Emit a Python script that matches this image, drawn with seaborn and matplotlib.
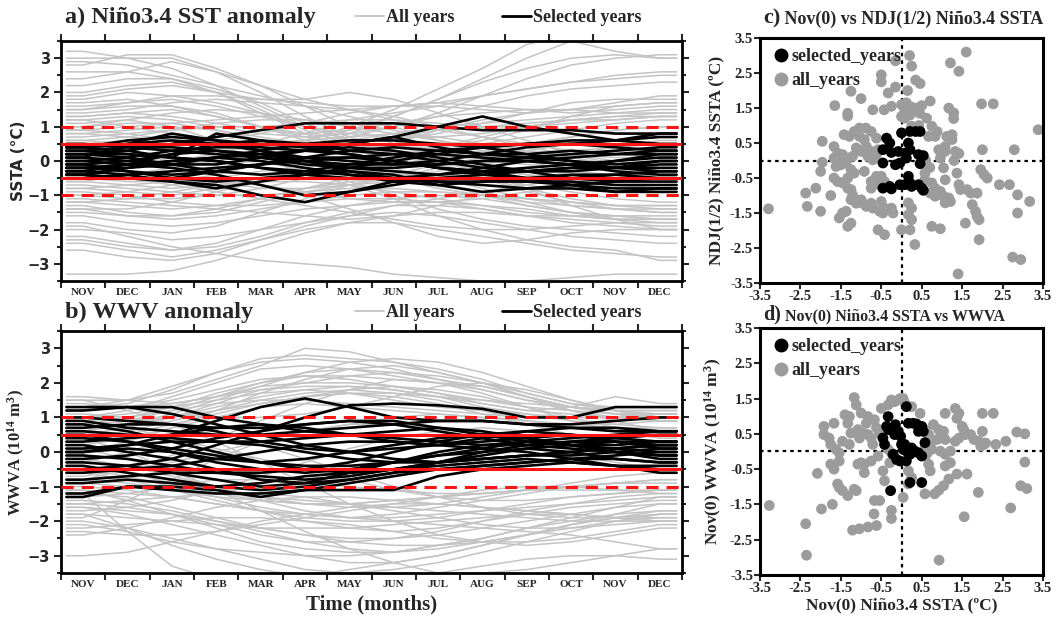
import numpy as np
import pandas as pd
import matplotlib
matplotlib.use("Agg")
import matplotlib.pyplot as plt
import seaborn as sns
from matplotlib.lines import Line2D
from matplotlib.ticker import MultipleLocator

# ---------------- data ----------------
months = ["NOV", "DEC", "JAN", "FEB", "MAR", "APR", "MAY", "JUN",
          "JUL", "AUG", "SEP", "OCT", "NOV", "DEC"]

# a) Nino3.4 SSTA, all years (grey)
sst_all = [
    [3.2, 3.0, 2.7, 2.2, 1.6, 1.0, 0.6, 0.3, -0.1, -0.5, -0.9, -1.2, -1.4, -1.5],
    [3.0, 3.0, 3.0, 2.6, 2.0, 1.3, 0.7, 0.3, 0.0, -0.2, -0.4, -0.6, -0.7, -0.8],
    [2.8, 3.1, 3.1, 2.7, 2.2, 1.6, 1.0, 0.5, 0.2, -0.3, -0.8, -1.3, -1.7, -2.0],
    [2.6, 2.6, 2.4, 2.0, 1.4, 0.8, 0.3, -0.2, -0.6, -1.0, -1.3, -1.5, -1.6, -1.7],
    [2.2, 2.4, 2.4, 2.1, 1.7, 1.1, 0.6, 0.2, -0.1, -0.4, -0.5, -0.6, -0.6, -0.5],
    [2.0, 2.2, 2.3, 2.0, 1.5, 0.9, 0.5, 0.3, 0.2, 0.1, 0.1, 0.2, 0.2, 0.3],
    [1.8, 2.0, 1.9, 1.7, 1.4, 1.0, 0.6, 0.3, 0.0, -0.2, -0.4, -0.5, -0.7, -0.8],
    [1.6, 1.7, 1.8, 1.6, 1.3, 1.0, 0.8, 0.7, 0.7, 0.8, 1.0, 1.2, 1.3, 1.4],
    [1.5, 1.6, 1.6, 1.4, 1.0, 0.6, 0.3, 0.1, -0.2, -0.5, -0.8, -1.1, -1.3, -1.4],
    [1.3, 1.4, 1.5, 1.3, 1.0, 0.8, 0.6, 0.6, 0.8, 1.1, 1.4, 1.7, 1.8, 1.8],
    [1.2, 1.3, 1.2, 1.0, 0.8, 0.7, 0.8, 1.0, 1.4, 1.9, 2.4, 2.8, 3.0, 3.1],
    [1.0, 1.1, 1.1, 0.9, 0.6, 0.4, 0.2, 0.0, -0.1, -0.2, -0.3, -0.3, -0.4, -0.4],
    [0.9, 1.0, 1.1, 1.2, 1.3, 1.4, 1.5, 1.6, 1.7, 1.6, 1.5, 1.4, 1.5, 1.6],
    [0.8, 0.7, 0.6, 0.5, 0.5, 0.6, 0.9, 1.3, 1.8, 2.3, 2.7, 3.0, 3.1, 3.0],
    [0.6, 0.5, 0.5, 0.6, 0.8, 1.1, 1.4, 1.6, 1.6, 1.5, 1.4, 1.5, 1.7, 1.9],
    [0.0, 0.0, -0.1, 0.0, 0.2, 0.6, 1.0, 1.5, 2.1, 2.7, 3.4, 3.7, 3.8, 3.8],
    [0.3, 0.2, 0.0, -0.1, 0.0, 0.3, 0.8, 1.3, 1.8, 2.4, 3.0, 3.5, 3.2, 3.0],
    [-0.2, -0.1, 0.0, 0.2, 0.5, 0.8, 1.2, 1.4, 1.6, 1.9, 2.1, 2.3, 2.4, 2.5],
    [-0.5, -0.6, -0.6, -0.4, -0.1, 0.3, 0.7, 1.0, 1.3, 1.6, 1.9, 2.1, 2.2, 2.3],
    [-0.8, -0.9, -1.0, -0.8, -0.5, -0.2, 0.2, 0.5, 0.9, 1.2, 1.4, 1.5, 1.6, 1.7],
    [-1.0, -1.1, -1.1, -1.0, -0.8, -0.5, -0.3, -0.1, 0.1, 0.3, 0.5, 0.7, 0.9, 1.0],
    [-1.2, -1.3, -1.4, -1.3, -1.1, -0.8, -0.5, -0.4, -0.4, -0.5, -0.7, -0.9, -1.1, -1.2],
    [-1.3, -1.5, -1.6, -1.5, -1.2, -0.9, -0.7, -0.6, -0.7, -0.9, -1.2, -1.5, -1.7, -1.8],
    [-1.5, -1.6, -1.6, -1.4, -1.1, -0.8, -0.6, -0.5, -0.3, -0.1, 0.1, 0.3, 0.4, 0.5],
    [-1.6, -1.8, -1.9, -1.8, -1.6, -1.4, -1.3, -1.2, -1.2, -1.3, -1.4, -1.6, -1.7, -1.7],
    [-1.8, -2.0, -2.1, -1.9, -1.5, -1.1, -0.7, -0.4, -0.1, 0.2, 0.5, 0.7, 0.9, 1.0],
    [-2.0, -2.1, -2.3, -2.2, -2.0, -1.8, -1.6, -1.5, -1.6, -1.8, -2.0, -2.2, -2.3, -2.4],
    [-2.2, -2.4, -2.6, -2.5, -2.2, -1.8, -1.5, -1.3, -1.3, -1.4, -1.6, -1.8, -1.9, -2.0],
    [-2.4, -2.6, -2.8, -2.6, -2.3, -2.0, -1.8, -1.8, -2.0, -2.2, -2.4, -2.6, -2.7, -2.8],
    [-2.6, -2.8, -2.9, -2.7, -2.3, -1.9, -1.6, -1.3, -1.1, -0.9, -0.7, -0.5, -0.4, -0.3],
    [-3.3, -3.3, -3.2, -2.9, -2.5, -2.1, -1.8, -1.6, -1.5, -1.5, -1.6, -1.6, -1.7, -1.7],
    [-1.9, -2.2, -2.5, -2.7, -2.9, -3.0, -3.1, -3.3, -3.4, -3.5, -3.5, -3.4, -3.3, -3.3],
    [0.5, 0.6, 0.4, 0.2, 0.0, -0.3, -0.7, -1.1, -1.6, -2.0, -2.3, -2.5, -2.6, -2.9],
    [1.1, 1.2, 1.0, 0.6, 0.2, -0.2, -0.6, -1.0, -1.4, -1.7, -1.9, -2.0, -2.1, -2.2],
    [0.2, 0.0, -0.2, -0.4, -0.7, -1.0, -1.4, -1.8, -2.2, -2.4, -2.3, -2.1, -2.0, -2.0],
    [-0.4, -0.5, -0.7, -0.9, -1.1, -1.3, -1.5, -1.7, -1.9, -2.0, -2.0, -1.9, -1.8, -1.8],
    [1.4, 1.5, 1.7, 1.8, 1.7, 1.6, 1.5, 1.3, 1.0, 0.7, 0.4, 0.2, 0.0, -0.2],
    [2.4, 2.6, 2.9, 2.6, 2.2, 1.8, 1.5, 1.2, 0.9, 0.7, 0.5, 0.3, 0.2, 0.1],
    [1.9, 2.1, 2.2, 2.0, 1.8, 1.8, 2.0, 1.8, 1.4, 1.0, 0.6, 0.2, -0.1, -0.3],
    [-0.6, -0.7, -0.8, -0.7, -0.5, -0.3, -0.1, 0.1, 0.4, 0.7, 1.0, 1.2, 1.3, 1.3],
    [0.7, 0.8, 0.9, 1.0, 1.0, 1.1, 1.2, 1.2, 1.1, 1.0, 1.0, 1.1, 1.2, 1.3],
    [-0.9, -1.0, -1.2, -1.3, -1.3, -1.2, -1.1, -1.1, -1.2, -1.4, -1.6, -1.7, -1.8, -1.9],
    [-1.1, -1.2, -1.3, -1.4, -1.5, -1.6, -1.7, -1.6, -1.3, -1.0, -0.6, -0.3, 0.0, 0.1],
    [1.7, 1.8, 1.6, 1.3, 1.0, 0.7, 0.5, 0.4, 0.4, 0.6, 0.9, 1.3, 1.6, 1.7],
    [-1.4, -1.4, -1.2, -0.9, -0.6, -0.4, -0.3, -0.3, -0.5, -0.8, -1.1, -1.3, -1.4, -1.5],
    [2.9, 2.8, 2.5, 2.2, 1.9, 1.6, 1.3, 1.0, 0.6, 0.3, 0.2, 0.2, 0.4, 0.6],
    [0.4, 0.4, 0.3, 0.3, 0.4, 0.5, 0.5, 0.4, 0.2, 0.0, -0.1, -0.2, -0.3, -0.3],
    [-0.3, -0.3, -0.4, -0.6, -0.8, -0.8, -0.7, -0.5, -0.2, 0.1, 0.3, 0.5, 0.6, 0.7],
    [1.5, 1.7, 1.9, 1.9, 1.8, 1.7, 1.6, 1.6, 1.7, 1.9, 2.1, 2.3, 2.5, 2.6],
    [-2.3, -2.5, -2.6, -2.4, -2.0, -1.6, -1.3, -1.1, -1.0, -1.1, -1.3, -1.5, -1.6, -1.7],
    [0.9, 0.8, 0.6, 0.5, 0.4, 0.4, 0.5, 0.7, 0.9, 1.0, 1.1, 1.2, 1.2, 1.3],
    [-0.7, -0.8, -0.9, -1.0, -1.0, -0.9, -0.8, -0.8, -0.9, -1.0, -1.1, -1.2, -1.3, -1.3],
    [1.2, 1.0, 0.8, 0.6, 0.5, 0.6, 0.7, 0.8, 0.7, 0.5, 0.3, 0.1, -0.1, -0.2],
    [-1.0, -0.9, -0.7, -0.5, -0.3, -0.2, -0.3, -0.5, -0.8, -1.0, -1.2, -1.3, -1.4, -1.4],
    [0.6, 0.7, 0.9, 1.1, 1.2, 1.2, 1.1, 0.9, 0.6, 0.3, 0.0, -0.3, -0.5, -0.6],
    [-0.6, -0.4, -0.2, 0.0, 0.2, 0.4, 0.6, 0.8, 1.0, 1.1, 1.2, 1.3, 1.4, 1.5],
    [1.3, 1.4, 1.3, 1.1, 0.9, 0.8, 0.9, 1.1, 1.3, 1.4, 1.5, 1.5, 1.4, 1.4],
    [-1.2, -1.1, -0.9, -0.7, -0.6, -0.6, -0.7, -0.9, -1.1, -1.3, -1.5, -1.6, -1.6, -1.6],
    [0.8, 0.9, 1.0, 0.9, 0.7, 0.5, 0.3, 0.2, 0.3, 0.5, 0.7, 0.9, 1.1, 1.2],
    [-0.8, -0.7, -0.6, -0.6, -0.7, -0.9, -1.1, -1.2, -1.2, -1.1, -0.9, -0.7, -0.5, -0.4],
    [1.0, 1.2, 1.4, 1.5, 1.4, 1.2, 1.0, 0.8, 0.6, 0.4, 0.3, 0.2, 0.1, 0.1],
    [-1.4, -1.6, -1.7, -1.6, -1.4, -1.2, -1.0, -0.9, -0.9, -1.0, -1.1, -1.2, -1.3, -1.3],
]

# a) Nino3.4 SSTA, selected years (black)
sst_sel = [
    [0.2, 0.3, 0.5, 0.7, 0.9, 1.1, 1.1, 1.1, 1.0, 0.9, 0.9, 0.9, 0.8, 0.8],
    [-0.2, -0.1, 0.0, 0.1, 0.2, 0.3, 0.5, 0.7, 1.0, 1.3, 1.0, 0.8, 0.6, 0.7],
    [-0.4, -0.5, -0.6, -0.7, -1.0, -1.2, -0.9, -0.6, -0.5, -0.5, -0.6, -0.7, -0.9, -0.9],
    [0.4, 0.6, 0.7, 0.6, 0.5, 0.4, 0.2, 0.0, -0.2, -0.3, -0.5, -0.7, -0.8, -0.8],
    [0.1, 0.5, 0.8, 0.6, 0.3, 0.1, 0.0, -0.1, -0.1, 0.0, 0.1, 0.2, 0.3, 0.4],
    [0.3, 0.2, 0.1, 0.8, 0.6, 0.4, 0.5, 0.7, 0.4, 0.2, 0.1, 0.0, -0.1, 0.0],
    [-0.3, -0.4, -0.6, -0.8, -0.6, -0.4, -0.3, -0.4, -0.7, -0.9, -0.8, -0.7, -0.6, -0.5],
    [0.0, -0.1, -0.2, -0.4, -0.7, -1.0, -0.9, -0.7, -0.5, -0.4, -0.3, -0.2, -0.2, -0.1],
    [0.5, 0.4, 0.3, 0.2, 0.1, 0.0, -0.1, -0.1, 0.0, 0.2, 0.4, 0.5, 0.6, 0.8],
    [-0.1, 0.0, 0.2, 0.3, 0.2, 0.0, -0.2, -0.3, -0.4, -0.3, -0.2, -0.1, 0.0, 0.1],
    [0.2, 0.1, -0.1, -0.3, -0.4, -0.3, -0.1, 0.1, 0.3, 0.4, 0.5, 0.6, 0.6, 0.5],
    [-0.5, -0.4, -0.3, -0.2, -0.1, 0.0, 0.1, 0.2, 0.2, 0.1, 0.0, -0.1, -0.3, -0.4],
    [0.4, 0.3, 0.1, 0.0, -0.2, -0.3, -0.4, -0.5, -0.6, -0.6, -0.6, -0.6, -0.7, -0.7],
    [-0.2, -0.3, -0.4, -0.3, -0.1, 0.1, 0.3, 0.4, 0.3, 0.2, 0.2, 0.3, 0.2, 0.2],
    [0.0, 0.1, 0.3, 0.4, 0.4, 0.3, 0.2, 0.0, -0.2, -0.4, -0.5, -0.5, -0.4, -0.3],
    [-0.4, -0.2, 0.0, 0.1, 0.0, -0.2, -0.4, -0.6, -0.7, -0.6, -0.5, -0.4, -0.4, -0.5],
    [0.3, 0.4, 0.4, 0.3, 0.1, -0.1, -0.2, -0.2, -0.1, 0.0, 0.0, -0.1, -0.2, -0.2],
    [-0.1, -0.3, -0.5, -0.6, -0.5, -0.4, -0.2, 0.0, 0.2, 0.4, 0.5, 0.5, 0.4, 0.3],
    [0.1, 0.0, -0.1, -0.1, 0.1, 0.3, 0.4, 0.3, 0.1, -0.1, -0.3, -0.5, -0.6, -0.6],
    [-0.3, -0.1, 0.2, 0.5, 0.6, 0.5, 0.3, 0.2, 0.0, -0.2, -0.3, -0.3, -0.2, 0.0],
    [0.2, 0.2, 0.1, 0.0, -0.2, -0.4, -0.5, -0.5, -0.4, -0.2, 0.0, 0.1, 0.2, 0.3],
    [-0.2, -0.2, -0.1, 0.1, 0.3, 0.5, 0.6, 0.6, 0.5, 0.4, 0.2, 0.0, -0.2, -0.3],
    [0.4, 0.5, 0.6, 0.5, 0.3, 0.0, -0.3, -0.5, -0.6, -0.7, -0.8, -0.8, -0.9, -0.8],
    [-0.4, -0.5, -0.5, -0.3, -0.1, 0.1, 0.1, 0.0, -0.2, -0.3, -0.3, -0.2, 0.0, 0.2],
]

# b) WWV anomaly, all years (grey)
wwv_all = [
    [1.5, 1.5, 1.7, 2.1, 2.5, 3.0, 2.9, 2.6, 2.3, 2.0, 1.6, 1.3, 1.2, 1.2],
    [1.3, 1.4, 1.8, 2.3, 2.7, 2.8, 2.7, 2.6, 2.4, 2.1, 1.7, 1.4, 1.3, 1.3],
    [1.0, 1.2, 1.6, 2.0, 2.4, 2.5, 2.4, 2.2, 2.0, 1.9, 1.6, 1.3, 1.1, 1.0],
    [0.8, 1.0, 1.3, 1.7, 2.0, 2.2, 2.2, 2.1, 2.0, 1.8, 1.5, 1.2, 1.0, 0.9],
    [1.6, 1.5, 1.4, 1.6, 1.9, 2.0, 2.0, 1.9, 1.7, 1.4, 1.2, 1.3, 1.6, 1.4],
    [0.5, 0.7, 1.0, 1.4, 1.8, 1.9, 1.9, 1.8, 1.6, 1.3, 1.1, 0.9, 0.8, 0.7],
    [1.2, 1.3, 1.4, 1.6, 1.8, 2.0, 2.2, 2.3, 2.2, 2.0, 1.7, 1.4, 1.2, 1.0],
    [0.3, 0.5, 0.8, 1.1, 1.4, 1.6, 1.8, 1.9, 1.8, 1.6, 1.3, 1.0, 0.7, 0.5],
    [0.0, 0.3, 0.7, 1.2, 1.7, 2.1, 2.4, 2.5, 2.3, 2.0, 1.6, 1.2, 0.9, 0.6],
    [-0.3, 0.0, 0.4, 0.9, 1.3, 1.6, 1.7, 1.6, 1.4, 1.1, 0.8, 0.5, 0.3, 0.2],
    [0.9, 1.0, 1.2, 1.4, 1.5, 1.5, 1.4, 1.3, 1.2, 1.1, 1.0, 1.0, 1.0, 1.1],
    [1.4, 1.3, 1.1, 1.0, 1.0, 1.1, 1.3, 1.6, 1.9, 2.0, 1.8, 1.5, 1.2, 0.9],
    [-0.8, -0.5, -0.1, 0.4, 0.9, 1.4, 1.8, 2.1, 2.0, 1.7, 1.3, 0.9, 0.6, 0.4],
    [0.6, 0.8, 1.1, 1.5, 1.9, 2.3, 2.6, 2.7, 2.6, 2.3, 1.9, 1.5, 1.2, 1.0],
    [-1.0, -1.1, -1.3, -1.5, -1.7, -1.8, -1.9, -1.9, -1.8, -1.7, -1.6, -1.5, -1.4, -1.3],
    [-1.2, -1.3, -1.6, -1.9, -2.2, -2.4, -2.5, -2.5, -2.4, -2.2, -2.0, -1.8, -1.6, -1.5],
    [-1.4, -1.5, -1.7, -2.0, -2.3, -2.6, -2.8, -2.9, -2.8, -2.6, -2.4, -2.1, -1.9, -1.8],
    [-1.6, -1.8, -2.1, -2.4, -2.7, -3.0, -3.2, -3.2, -3.0, -2.7, -2.4, -2.1, -1.9, -1.7],
    [-1.8, -1.9, -2.0, -2.1, -2.2, -2.2, -2.2, -2.1, -2.0, -1.9, -1.8, -1.8, -1.9, -2.0],
    [-2.0, -2.2, -2.5, -2.8, -3.1, -3.4, -3.5, -3.4, -3.2, -2.9, -2.6, -2.3, -2.0, -1.8],
    [-2.2, -2.1, -2.0, -1.9, -1.9, -2.0, -2.1, -2.3, -2.5, -2.6, -2.6, -2.5, -2.3, -2.1],
    [-2.4, -2.2, -1.9, -1.6, -1.4, -1.3, -1.3, -1.4, -1.5, -1.6, -1.7, -1.8, -1.9, -2.0],
    [-3.0, -2.9, -2.6, -2.3, -2.0, -1.8, -1.6, -1.5, -1.5, -1.6, -1.7, -1.8, -1.9, -1.9],
    [-0.6, -0.8, -1.1, -1.4, -1.7, -1.9, -2.0, -2.0, -1.9, -1.7, -1.5, -1.3, -1.2, -1.1],
    [-0.4, -0.6, -0.9, -1.2, -1.4, -1.5, -1.5, -1.4, -1.3, -1.2, -1.1, -1.0, -0.9, -0.8],
    [-1.5, -1.4, -1.3, -1.2, -1.2, -1.3, -1.5, -1.7, -1.9, -2.1, -2.2, -2.2, -2.1, -2.0],
    [1.5, 1.2, 0.8, 0.3, -0.3, -0.9, -1.5, -2.0, -2.4, -2.6, -2.7, -2.6, -2.4, -2.2],
    [0.4, 0.0, -0.5, -1.1, -1.7, -2.3, -2.8, -3.2, -3.5, -3.5, -3.4, -3.2, -3.0, -2.8],
    [-1.9, -1.4, -0.8, -0.2, 0.3, 0.6, 0.8, 0.8, 0.7, 0.5, 0.2, -0.1, -0.3, -0.5],
    [-1.2, -2.3, -3.3, -3.7, -3.7, -3.6, -3.4, -3.2, -3.0, -2.7, -2.4, -2.2, -2.0, -1.9],
    [-1.7, -1.6, -1.4, -1.1, -0.7, -0.3, 0.1, 0.4, 0.6, 0.7, 0.6, 0.4, 0.2, 0.0],
    [-2.1, -2.3, -2.6, -2.8, -2.9, -3.0, -3.0, -2.9, -2.7, -2.5, -2.2, -1.9, -1.6, -1.3],
    [1.1, 1.0, 0.8, 0.5, 0.2, -0.2, -0.6, -1.0, -1.3, -1.6, -1.8, -1.9, -1.9, -1.8],
    [0.2, 0.4, 0.7, 1.0, 1.3, 1.4, 1.3, 1.2, 1.1, 1.0, 0.9, 0.8, 0.7, 0.7],
    [-0.9, -1.0, -1.1, -1.2, -1.3, -1.4, -1.5, -1.6, -1.7, -1.8, -1.9, -2.0, -2.0, -2.0],
    [-1.3, -1.2, -1.0, -0.8, -0.8, -0.9, -1.0, -1.1, -1.2, -1.2, -1.1, -1.0, -0.9, -0.9],
    [0.7, 0.9, 1.2, 1.6, 2.0, 2.3, 2.4, 2.3, 2.1, 1.9, 1.6, 1.3, 1.1, 0.9],
    [-2.3, -2.4, -2.4, -2.3, -2.1, -1.9, -1.7, -1.5, -1.3, -1.1, -1.0, -1.0, -1.1, -1.2],
    [-1.1, -1.4, -1.8, -2.2, -2.6, -2.8, -2.9, -2.9, -2.7, -2.5, -2.2, -2.0, -1.8, -1.7],
    [0.1, -0.2, -0.6, -1.0, -1.4, -1.7, -1.9, -2.0, -2.1, -2.2, -2.3, -2.4, -2.6, -2.8],
    [-1.8, -2.2, -2.7, -3.1, -3.4, -3.6, -3.6, -3.6, -3.5, -3.3, -3.1, -3.0, -3.0, -3.1],
    [1.3, 1.5, 1.9, 2.3, 2.6, 2.7, 2.6, 2.4, 2.1, 1.8, 1.5, 1.3, 1.2, 1.1],
    [-0.7, -0.5, -0.3, 0.0, 0.3, 0.6, 0.8, 1.0, 1.1, 1.0, 0.9, 0.8, 0.8, 0.9],
    [0.9, 0.7, 0.4, 0.1, -0.2, -0.5, -0.8, -1.1, -1.3, -1.4, -1.4, -1.3, -1.2, -1.1],
    [-1.6, -1.7, -1.8, -2.0, -2.2, -2.4, -2.6, -2.7, -2.7, -2.6, -2.4, -2.1, -1.8, -1.5],
    [0.6, 0.8, 1.0, 1.3, 1.6, 1.8, 1.9, 1.8, 1.6, 1.4, 1.2, 1.1, 1.0, 0.9],
    [-0.5, -0.7, -1.0, -1.3, -1.6, -1.8, -1.9, -1.8, -1.6, -1.4, -1.2, -1.0, -0.9, -0.8],
    [1.0, 1.1, 1.3, 1.5, 1.7, 1.8, 1.7, 1.5, 1.3, 1.2, 1.1, 1.0, 1.0, 1.0],
    [-1.1, -1.2, -1.3, -1.5, -1.7, -2.0, -2.2, -2.3, -2.2, -2.0, -1.7, -1.5, -1.3, -1.2],
    [0.4, 0.6, 0.9, 1.2, 1.5, 1.7, 1.8, 1.7, 1.5, 1.2, 0.9, 0.7, 0.6, 0.5],
    [-0.2, -0.4, -0.7, -1.0, -1.3, -1.5, -1.6, -1.6, -1.5, -1.3, -1.1, -0.9, -0.7, -0.6],
    [1.2, 1.3, 1.5, 1.8, 2.1, 2.2, 2.1, 1.9, 1.7, 1.5, 1.3, 1.2, 1.1, 1.1],
    [-1.5, -1.6, -1.8, -2.1, -2.4, -2.6, -2.6, -2.5, -2.3, -2.0, -1.8, -1.6, -1.5, -1.4],
    [0.8, 0.9, 1.0, 1.2, 1.4, 1.6, 1.7, 1.7, 1.6, 1.5, 1.4, 1.3, 1.2, 1.2],
    [-0.8, -0.9, -1.1, -1.3, -1.4, -1.5, -1.5, -1.4, -1.3, -1.2, -1.1, -1.1, -1.1, -1.1],
]

# b) WWV anomaly, selected years (black)
wwv_sel = [
    [1.2, 1.3, 1.3, 1.0, 0.8, 0.6, 0.5, 0.4, 0.3, 0.2, 0.2, 0.3, 0.4, 0.5],
    [1.3, 1.3, 1.1, 0.8, 0.5, 0.2, 0.0, -0.2, -0.3, -0.2, -0.1, 0.0, 0.1, 0.2],
    [0.0, 0.2, 0.5, 0.9, 1.3, 1.55, 1.3, 1.0, 0.9, 0.9, 0.8, 0.8, 0.9, 1.0],
    [-0.5, -0.4, -0.2, 0.2, 0.6, 1.0, 1.35, 1.4, 1.35, 1.25, 1.0, 1.0, 1.3, 1.3],
    [-1.3, -1.0, -1.0, -1.1, -1.3, -1.1, -0.9, -0.7, -0.5, -0.4, -0.3, -0.2, -0.1, 0.0],
    [-1.2, -1.0, -1.1, -1.2, -1.2, -1.1, -1.1, -1.1, -0.7, -0.5, -0.4, -0.3, -0.4, -0.5],
    [0.9, 0.7, 0.6, 0.5, 0.5, 0.6, 0.7, 0.8, 0.9, 0.9, 0.8, 0.7, 0.6, 0.6],
    [0.8, 0.6, 0.3, 0.0, -0.3, -0.5, -0.6, -0.5, -0.3, -0.1, 0.1, 0.2, 0.3, 0.3],
    [0.6, 0.5, 0.4, 0.3, 0.3, 0.4, 0.5, 0.6, 0.7, 0.6, 0.4, 0.2, 0.0, -0.1],
    [0.4, 0.3, 0.1, -0.1, -0.3, -0.4, -0.4, -0.3, -0.1, 0.1, 0.3, 0.4, 0.5, 0.6],
    [0.2, 0.0, -0.2, -0.5, -0.8, -0.9, -0.8, -0.6, -0.3, 0.0, 0.2, 0.3, 0.3, 0.2],
    [-0.1, -0.2, -0.4, -0.6, -0.7, -0.8, -0.7, -0.5, -0.3, -0.2, -0.1, -0.1, 0.0, 0.1],
    [-0.3, -0.4, -0.6, -0.8, -1.0, -0.9, -0.6, -0.3, 0.0, 0.2, 0.3, 0.2, 0.0, -0.2],
    [-0.8, -0.7, -0.6, -0.6, -0.6, -0.5, -0.3, 0.0, 0.3, 0.5, 0.6, 0.5, 0.3, 0.1],
    [-0.9, -0.8, -0.9, -1.0, -0.9, -0.7, -0.6, -0.5, -0.4, -0.3, -0.2, -0.3, -0.4, -0.4],
    [0.7, 0.8, 0.8, 0.6, 0.3, 0.1, 0.0, 0.1, 0.2, 0.4, 0.6, 0.7, 0.7, 0.6],
    [0.1, 0.2, 0.3, 0.3, 0.2, 0.0, -0.2, -0.3, -0.3, -0.2, -0.1, 0.0, 0.1, 0.2],
    [-0.2, -0.1, 0.1, 0.4, 0.6, 0.8, 0.9, 0.8, 0.6, 0.4, 0.2, 0.1, 0.0, -0.1],
    [0.5, 0.3, 0.0, -0.3, -0.5, -0.6, -0.5, -0.3, -0.1, 0.0, 0.1, 0.0, -0.2, -0.3],
    [-0.6, -0.5, -0.4, -0.2, 0.0, 0.2, 0.3, 0.3, 0.2, 0.1, 0.0, -0.2, -0.4, -0.6],
    [0.3, 0.4, 0.5, 0.7, 0.8, 0.7, 0.5, 0.3, 0.2, 0.3, 0.4, 0.5, 0.4, 0.3],
    [-0.4, -0.6, -0.8, -1.0, -1.1, -1.0, -0.8, -0.6, -0.5, -0.4, -0.3, -0.2, -0.2, -0.3],
    [0.0, 0.1, 0.0, -0.2, -0.3, -0.2, 0.0, 0.2, 0.4, 0.5, 0.4, 0.2, 0.1, 0.0],
    [1.0, 0.9, 0.8, 0.7, 0.7, 0.8, 0.9, 0.9, 0.7, 0.5, 0.3, 0.2, 0.2, 0.3],
]

# c) Nov(0) vs NDJ(1/2) Nino3.4 SSTA  -- (x, y) points
c_all_pts = [
    (0.2, 3.0), (1.6, 3.1), (-0.15, 2.85), (0.25, 2.7), (1.21, 2.79), (1.42, 2.55),
    (-0.5, 2.45), (-0.5, 2.25), (0.35, 2.3), (0.46, 2.2), (-0.15, 2.1), (-0.33, 1.93),
    (0.15, 2.0), (-1.25, 1.98), (-1.0, 1.77), (-1.65, 1.57), (-1.33, 1.35), (-1.33, 1.27),
    (-0.71, 1.45), (-0.43, 1.45), (-0.25, 1.55), (0.0, 1.6), (0.12, 1.65), (0.25, 1.53),
    (0.08, 1.45), (0.38, 1.5), (0.5, 1.57), (0.71, 1.7), (1.17, 1.5), (1.29, 1.36),
    (1.29, 1.2), (1.98, 1.62), (2.27, 1.62), (0.0, 1.26), (0.08, 1.21), (0.21, 1.3),
    (0.62, 1.21), (0.25, 0.98), (0.43, 1.0), (0.75, 0.98), (0.88, 0.83), (-1.17, 0.83),
    (-1.04, 0.93), (-0.88, 0.93), (-0.75, 0.83), (-1.42, 0.74), (-1.29, 0.69), (-1.96, 0.55),
    (-1.04, 0.69), (-0.92, 0.6), (-0.62, 0.64), (0.67, 0.69), (0.83, 0.69), (1.12, 0.69),
    (1.25, 0.74), (1.25, 0.6), (1.08, 0.4), (0.92, 0.31), (1.08, 0.26), (1.33, 0.26),
    (1.42, 0.2), (2.0, 0.31), (2.79, 0.31), (3.38, 0.88), (-1.67, 0.4), (-1.58, 0.21),
    (-1.46, 0.17), (-1.33, 0.07), (-1.21, 0.12), (-1.12, 0.36), (-1.0, 0.26), (-0.87, 0.4),
    (-0.75, 0.26), (-0.62, 0.17), (-0.83, 0.12), (-0.58, 0.31), (-1.96, -0.05), (-2.0, -0.31),
    (-1.67, 0.07), (-1.54, -0.02), (-1.5, -0.12), (-1.62, -0.17), (-1.37, -0.07), (-1.25, -0.26),
    (-1.17, -0.36), (-0.92, -0.31), (-0.71, 0.02), (-0.62, -0.45), (-0.5, -0.45), (-0.42, -0.6),
    (-0.75, -0.6), (-0.54, -0.69), (-0.75, -0.79), (-1.33, -0.5), (-1.46, -0.64), (-1.33, -0.79),
    (-1.67, -0.5), (-1.58, -0.6), (-2.12, -0.79), (-2.37, -0.93), (-1.75, -1.0), (-1.25, -0.83),
    (-1.21, -0.98), (-1.25, -1.12), (-1.12, -1.22), (-1.0, -1.12), (-0.96, -1.22), (-0.87, -1.31),
    (-0.75, -1.22), (-0.71, -1.36), (-2.33, -1.31), (-2.0, -1.45), (-1.46, -1.5), (-1.54, -1.64),
    (-1.37, -1.45), (-3.29, -1.38), (-0.5, -1.17), (-0.42, -1.36), (-0.54, -1.45), (-0.46, -1.5),
    (-0.25, -1.36), (-0.21, -1.5), (0.17, -1.21), (0.25, -1.36), (0.17, -1.55), (0.25, -1.69),
    (-1.33, -1.88), (-1.25, -1.79), (-0.58, -1.98), (-0.42, -2.12), (0.0, -1.98), (0.21, -1.98),
    (0.33, -2.4), (0.58, -0.36), (0.58, -0.55), (0.75, -0.64), (0.83, -0.79), (0.96, 0.07),
    (1.04, -0.21), (1.08, -0.55), (0.71, -0.93), (0.83, -1.02), (0.96, -0.88), (1.04, -1.02),
    (1.17, -1.07), (1.21, -1.17), (1.08, -1.21), (1.37, -0.36), (1.42, -0.69), (1.46, -0.83),
    (1.62, -0.83), (1.71, -0.93), (1.87, -0.93), (1.96, -0.26), (2.04, -0.4), (2.12, -0.5),
    (2.42, -0.69), (2.67, -0.69), (2.87, -0.98), (3.17, -1.17), (2.87, -1.5), (1.75, -1.26),
    (1.83, -1.45), (1.87, -1.6), (1.92, -1.69), (1.58, -1.79), (1.92, -2.26), (0.75, -1.88),
    (0.96, -1.95), (2.75, -2.76), (2.95, -2.83), (1.4, -3.24), (0.6, 0.0), (0.7, -0.2),
    (1.3, 0.0), (0.45, 1.35),
]
c_sel_pts = [
    (-0.37, 0.64), (-0.29, 0.5), (-0.46, 0.31), (-0.25, 0.23), (-0.46, -0.07), (-0.15, -0.12),
    (-0.04, -0.07), (0.12, 0.07), (0.21, 0.31), (0.17, 0.5), (0.21, 0.83), (0.0, 0.79),
    (0.46, 0.83), (0.35, 0.83), (0.42, 0.17), (0.54, 0.14), (0.46, -0.09), (0.08, 0.21),
    (-0.08, 0.26), (0.17, -0.45), (0.21, -0.64), (0.25, -0.74), (0.08, -0.69), (-0.04, -0.69),
    (0.42, -0.69), (0.5, -0.79), (0.54, -0.85), (-0.29, -0.74), (-0.25, -0.81), (-0.46, -0.79),
]

# d) Nov(0) Nino3.4 SSTA vs WWVA -- (x, y) points
d_all_pts = [
    (-3.27, -1.53), (-2.37, -2.05), (-2.35, -2.94), (-1.98, -1.63), (-1.71, -1.5), (-2.08, -0.62),
    (-1.92, 0.71), (-1.92, 0.48), (-1.79, 0.38), (-1.67, 0.8), (-1.75, 0.2), (-1.62, 0.06),
    (-1.54, -0.04), (-1.54, -0.27), (-1.75, -0.36), (-1.67, -0.5), (-1.58, -0.92), (-1.54, -1.02),
    (-1.46, -1.11), (-1.33, -1.25), (-1.17, -1.07), (-1.12, -1.11), (-1.4, 1.04), (-1.29, 0.99),
    (-1.33, 0.8), (-1.17, 1.53), (-1.12, 1.32), (-1.0, 1.09), (-0.83, 0.99), (-0.87, 0.8),
    (-1.25, 0.52), (-1.08, 0.62), (-1.04, 0.38), (-1.46, 0.29), (-1.29, 0.2), (-0.96, 0.52),
    (-0.83, 0.48), (-0.75, 0.38), (-0.71, 0.2), (-0.62, 0.67), (-0.54, 0.52), (-0.67, 0.9),
    (-0.5, 1.22), (-0.33, 1.32), (-0.25, 1.46), (-0.17, 1.41), (-0.04, 1.5), (0.04, 1.5),
    (0.08, 1.37), (0.25, 1.27), (0.46, 1.08), (-0.58, -0.13), (-0.75, -0.27), (-0.92, -0.36),
    (-1.0, -0.32), (-1.08, -0.36), (-0.92, -0.6), (-1.21, -2.23), (-1.04, -2.19), (-0.68, -1.77),
    (-0.62, -2.1), (-0.83, -2.14), (-0.67, -1.39), (-0.54, -1.39), (-0.46, -0.55), (-0.42, -0.83),
    (-0.25, -1.67), (-0.25, -1.9), (0.04, -1.3), (0.17, -0.55), (0.25, -0.74), (0.17, -0.92),
    (0.5, 0.71), (0.58, 0.62), (0.67, 0.48), (0.79, 0.76), (0.92, 0.62), (1.04, 0.57),
    (1.08, 0.34), (0.88, 0.34), (0.71, 0.2), (0.58, 0.1), (0.5, -0.04), (0.62, -0.08),
    (1.08, 1.08), (1.33, 1.22), (1.42, 1.08), (1.37, 0.94), (1.5, 0.71), (1.54, 0.62),
    (1.58, 0.48), (1.42, 0.38), (1.33, 0.29), (1.71, 0.48), (1.79, 0.34), (1.92, 0.29),
    (2.0, 0.57), (2.0, 1.08), (2.08, 0.24), (2.04, 0.2), (1.96, 0.15), (2.27, 1.08),
    (2.33, 0.2), (2.58, 0.29), (2.85, 0.55), (3.05, 0.5), (3.05, -0.3), (2.95, -0.97),
    (3.1, -1.05), (2.7, -1.6), (1.9, -1.16), (1.55, -1.85), (0.93, -3.08), (0.58, -1.2),
    (0.82, -1.2), (0.92, -1.1), (1.04, -0.97), (1.17, -0.78), (1.37, -0.64), (1.62, -0.64),
    (1.08, -0.41), (1.21, -0.32), (0.67, -0.36), (0.71, -0.55), (0.96, 0.01), (1.08, -0.08),
    (1.21, 0.01), (0.75, 0.06), (-0.17, -0.17), (-0.29, -0.32), (-0.33, 0.06), (-0.25, -0.04),
]
d_sel_pts = [
    (-0.33, 0.99), (-0.37, 0.71), (-0.32, 0.62), (-0.46, 0.38), (-0.42, 0.2), (-0.15, 0.76),
    (-0.08, 0.57), (-0.02, 0.43), (-0.17, 0.48), (0.12, 1.27), (0.17, 0.8), (0.29, 0.8),
    (0.37, 0.78), (0.5, 0.71), (0.42, 0.57), (0.54, 0.57), (0.0, 0.2), (0.08, 0.2),
    (0.04, 0.06), (0.12, 0.01), (0.25, 0.1), (0.21, -0.08), (0.33, 0.01), (0.42, -0.04),
    (0.5, -0.13), (0.58, 0.25), (-0.21, -0.08), (-0.04, -0.27), (-0.12, -0.23), (0.12, -0.27),
    (0.21, -0.88), (0.5, -0.88), (-0.27, -1.11),
]

scatter_ticks = [-3.5, -2.5, -1.5, -0.5, 0.5, 1.5, 2.5, 3.5]

# ---------------- style ----------------
sns.set_theme(style="ticks")
plt.rcParams["font.family"] = ["Liberation Serif", "DejaVu Sans"]
plt.rcParams["font.weight"] = "bold"
plt.rcParams["axes.labelweight"] = "bold"
plt.rcParams["mathtext.default"] = "regular"
plt.rcParams["axes.linewidth"] = 2.0
plt.rcParams["axes.edgecolor"] = "black"

GREY_LINE = "#c4c4c4"
GREY_PT = "#9c9c9c"
RED = "#ff1414"

fig = plt.figure(figsize=(10.56, 6.17), dpi=100)
axa = fig.add_axes([0.0578, 0.5446, 0.5880, 0.3889])
axb = fig.add_axes([0.0578, 0.0713, 0.5880, 0.3922])
axc = fig.add_axes([0.7197, 0.5413, 0.2680, 0.3970])
axd = fig.add_axes([0.7197, 0.0681, 0.2680, 0.4003])


def to_long(lines):
    rows = []
    for k, vals in enumerate(lines):
        xs = [0.12] + [i + 0.5 for i in range(len(vals))] + [13.88]
        ys = [vals[0]] + list(vals) + [vals[-1]]
        for x, y in zip(xs, ys):
            rows.append((k, x, y))
    return pd.DataFrame(rows, columns=["year", "pos", "val"])


def line_panel(ax, all_lines, sel_lines, ylabel, ylabel_family, ylabel_size, ylabel_pad):
    sns.lineplot(data=to_long(all_lines), x="pos", y="val", units="year",
                 estimator=None, color=GREY_LINE, lw=1.1, ax=ax, legend=False,
                 zorder=1)
    sns.lineplot(data=to_long(sel_lines), x="pos", y="val", units="year",
                 estimator=None, color="black", lw=1.9, ax=ax, legend=False,
                 zorder=2)
    for v in (0.5, -0.5):
        ax.axhline(v, color=RED, lw=2.2, zorder=4)
    for v in (1.0, -1.0):
        ax.axhline(v, color=RED, lw=2.2, ls=(0, (4, 2.6)), zorder=4)

    ax.set_xlim(0, 14)
    ax.set_ylim(-3.5, 3.5)
    ax.set_xticks(range(15))
    ax.set_xticklabels([])
    ax.set_xticks(np.arange(14) + 0.5, minor=True)
    ax.set_xticklabels(months, minor=True, fontsize=8, fontweight="bold")
    ax.tick_params(axis="x", which="minor", length=0, pad=5)
    ax.tick_params(axis="x", which="major", direction="out", length=5, width=1.5,
                   top=True, bottom=True)
    ax.set_yticks(range(-3, 4))
    ax.yaxis.set_minor_locator(MultipleLocator(0.5))
    ax.tick_params(axis="y", which="both", direction="out", left=True, right=True,
                   width=1.5)
    ax.tick_params(axis="y", which="major", length=5, labelsize=10.5, pad=3)
    ax.tick_params(axis="y", which="minor", length=3)
    for lbl in ax.get_yticklabels():
        lbl.set_fontfamily("DejaVu Sans")
        lbl.set_fontweight("bold")
    ax.set_xlabel("")
    ax.set_ylabel(ylabel, fontsize=ylabel_size, fontfamily=ylabel_family,
                  fontweight="bold", labelpad=ylabel_pad)
    for s in ax.spines.values():
        s.set_visible(True)
        s.set_linewidth(2)
    return ax


line_panel(axa, sst_all, sst_sel, "SSTA (\u00b0C)", "DejaVu Sans", 11, 1)
line_panel(axb, wwv_all, wwv_sel, "WWVA (10$^{14}$ m$^{3}$)", "Liberation Serif", 12, 0)
axb.set_xlabel("Time (months)", fontsize=15, fontweight="bold", labelpad=4)

axa.text(0.006, 1.098, "a) Ni\u00f1o3.4 SST anomaly", transform=axa.transAxes,
         fontsize=17.5, fontweight="bold", va="center", ha="left")
axb.text(0.006, 1.076, "b) WWV anomaly", transform=axb.transAxes,
         fontsize=17.5, fontweight="bold", va="center", ha="left")

leg_handles = [Line2D([], [], color=GREY_LINE, lw=1.3),
               Line2D([], [], color="black", lw=2.0)]
for ax, yy in ((axa, 1.098), (axb, 1.076)):
    ax.legend(leg_handles, ["All years", "Selected years"], loc="center left",
              bbox_to_anchor=(0.473, yy), ncol=2, frameon=False,
              prop={"family": "Liberation Serif", "weight": "bold", "size": 13},
              handlelength=1.6, handletextpad=0.15, columnspacing=2.6,
              borderaxespad=0, borderpad=0)


def scatter_panel(ax, all_pts, sel_pts, tag, title, ylabel, xlabel, ty, tsize):
    ax.axvline(0, color="black", lw=1.6, ls=(0, (1.6, 1.8)), zorder=1)
    ax.axhline(0, color="black", lw=1.6, ls=(0, (1.6, 1.8)), zorder=1)
    sns.scatterplot(x=[p[0] for p in all_pts], y=[p[1] for p in all_pts],
                    color=GREY_PT, s=60, edgecolor="none", ax=ax, zorder=2)
    sns.scatterplot(x=[p[0] for p in sel_pts], y=[p[1] for p in sel_pts],
                    color="black", s=60, edgecolor="none", ax=ax, zorder=3)
    ax.set_xlim(-3.5, 3.5)
    ax.set_ylim(-3.5, 3.5)
    ax.set_xticks(scatter_ticks)
    ax.set_yticks(scatter_ticks)
    tl = ["%.1f" % v for v in scatter_ticks]
    ax.set_xticklabels(tl, fontsize=10.5, fontweight="bold")
    ax.set_yticklabels(tl, fontsize=10.5, fontweight="bold")
    ax.tick_params(direction="out", length=4, width=1.5, pad=1)
    for s in ax.spines.values():
        s.set_visible(True)
        s.set_linewidth(2.2)
    ax.set_ylabel(ylabel, fontsize=12.5, fontweight="bold", labelpad=4)
    ax.set_xlabel(xlabel, fontsize=12.5, fontweight="bold", labelpad=2)
    h = [Line2D([], [], ls="", marker="o", ms=9, color="black"),
         Line2D([], [], ls="", marker="o", ms=9, color=GREY_PT)]
    ax.legend(h, ["selected_years", "all_years"], loc="upper left",
              frameon=False, prop={"weight": "bold", "size": 13},
              handletextpad=0.0, labelspacing=0.4, borderaxespad=0.25,
              handlelength=1.2, borderpad=0.3)
    t = ax.text(0.01, ty, tag, transform=ax.transAxes, fontsize=tsize + 3,
                fontweight="bold", va="baseline", ha="left")
    ax.annotate(title, xy=(1, 0.0), xycoords=t, fontsize=tsize,
                fontweight="bold", va="bottom", ha="left")


scatter_panel(axc, c_all_pts, c_sel_pts, "c)", " Nov(0) vs NDJ(1/2) Ni\u00f1o3.4 SSTA",
              "NDJ(1/2) Ni\u00f1o3.4 SSTA (\u00baC)", "", 1.06, 13)
scatter_panel(axd, d_all_pts, d_sel_pts, "d)", " Nov(0) Ni\u00f1o3.4 SSTA vs WWVA",
              "Nov(0) WWVA (10$^{14}$ m$^{3}$)", "Nov(0) Ni\u00f1o3.4 SSTA (\u00baC)",
              1.035, 11.5)

fig.savefig("out.png", dpi=100)
